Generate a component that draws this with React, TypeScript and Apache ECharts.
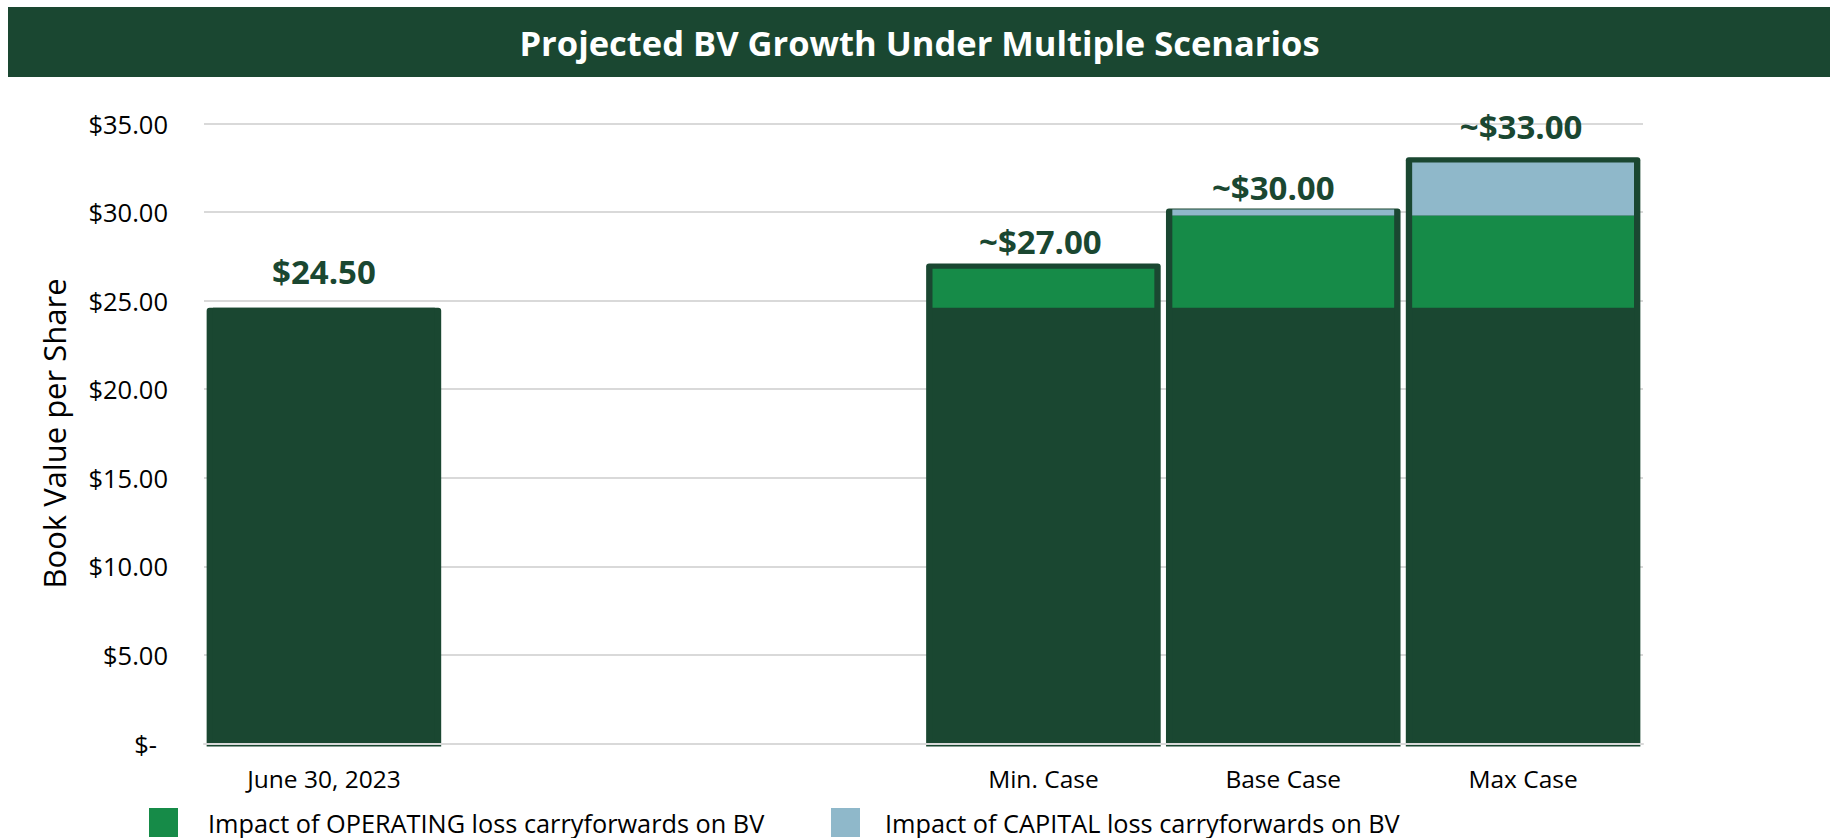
import React, { useEffect, useRef } from "react";
import * as echarts from "echarts";

// ---------- data ----------
const categories = ["June 30, 2023", "", "", "Min. Case", "Base Case", "Max Case"];
const baseValues = [24.6, null, null, 24.6, 24.6, 24.6];
const operatingValues = [null, null, null, 2.2, 5.2, 5.2];
const capitalValues = [null, null, null, null, 0.35, 3.0];
const totalValues = [24.6, null, null, 27.1, 30.2, 33.1];
const valueLabels = ["$24.50", "", "", "~$27.00", "~$30.00", "~$33.00"];
const seriesNames = [
  "Book Value",
  "Impact of OPERATING loss carryforwards on BV",
  "Impact of CAPITAL loss carryforwards on BV",
];
const titleText = "Projected BV Growth Under Multiple Scenarios";
const yAxisTitle = "Book Value per Share";
const yMin = 0;
const yMax = 35;
const yInterval = 5;

// ---------- style ----------
const DARK = "#1A4731";
const GREEN = "#168B48";
const BLUE = "#8FB8CA";
const GRID_GRAY = "#D9D9D9";
const FONT = '"Open Sans", "Noto Sans", sans-serif';
const OUTER_RATIO = 0.978;
const LABEL_GAP = [36, 0, 0, 22, 21, 31];
const LABEL_DX = [0, 0, 0, -3, -10, -2];

export default function App() {
  const ref = useRef<HTMLDivElement>(null);

  useEffect(() => {
    if (!ref.current) return;
    const chart = echarts.init(ref.current, undefined, { renderer: "svg" });

    const outlineData = totalValues
      .map((v, i) => (v == null ? null : [i, v]))
      .filter((d) => d !== null);

    const legendText = {
      fontSize: 25.3,
      lineHeight: 24,
      color: "#000",
      fontFamily: FONT,
    };

    const option: any = {
      animation: false,
      backgroundColor: "#ffffff",
      textStyle: { fontFamily: FONT },
      grid: {
        left: 204,
        right: 187,
        top: 123.5,
        bottom: 94.5,
        containLabel: false,
        outerBoundsMode: "none",
      },
      graphic: [
        {
          type: "rect",
          left: 8,
          top: 7,
          shape: { width: 1822, height: 70 },
          style: { fill: DARK },
          z: 10,
        },
        {
          type: "text",
          x: 919.5,
          y: 42.5,
          z: 11,
          style: {
            text: titleText,
            fill: "#ffffff",
            fontSize: 34.5,
            fontWeight: "bold",
            fontFamily: FONT,
            align: "center",
            verticalAlign: "middle",
            textAlign: "center",
            textVerticalAlign: "middle",
          },
        },
      ],
      legend: [
        {
          data: [seriesNames[1]],
          left: 149,
          top: 808,
          padding: 0,
          itemWidth: 29,
          itemHeight: 29,
          icon: "rect",
          selectedMode: false,
          textStyle: { ...legendText, padding: [0, 0, 0, 25] },
        },
        {
          data: [seriesNames[2]],
          left: 831,
          top: 808,
          padding: 0,
          itemWidth: 29,
          itemHeight: 29,
          icon: "rect",
          selectedMode: false,
          textStyle: { ...legendText, padding: [0, 0, 0, 20] },
        },
      ],
      xAxis: {
        type: "category",
        data: categories,
        z: 5,
        axisLine: { show: true, lineStyle: { color: GRID_GRAY, width: 2 } },
        axisTick: { show: false },
        axisLabel: {
          interval: 0,
          fontSize: 24.5,
          color: "#000",
          fontFamily: FONT,
          margin: 35,
          verticalAlign: "middle",
        },
      },
      yAxis: {
        type: "value",
        min: yMin,
        max: yMax,
        interval: yInterval,
        name: yAxisTitle,
        nameLocation: "middle",
        nameRotate: 90,
        nameGap: 150,
        nameTextStyle: {
          fontSize: 31,
          color: "#000",
          fontFamily: FONT,
          verticalAlign: "middle",
        },
        axisLine: { show: false },
        axisTick: { show: false },
        splitLine: { lineStyle: { color: GRID_GRAY, width: 2 } },
        axisLabel: {
          fontSize: 25.5,
          color: "#000",
          fontFamily: FONT,
          margin: 36,
          formatter: (v: number) => (v === 0 ? "{z|$-}" : "$" + v.toFixed(2)),
          rich: {
            z: {
              fontSize: 25.5,
              color: "#000",
              fontFamily: FONT,
              padding: [0, 11, 0, 0],
            },
          },
        },
      },
      series: [
        {
          type: "custom",
          name: "outline",
          z: 1,
          data: outlineData,
          encode: { x: 0, y: 1 },
          renderItem: (params: any, api: any) => {
            const i = api.value(0) as number;
            const v = api.value(1) as number;
            const top = api.coord([i, v]);
            const bottom = api.coord([i, 0]);
            const band = api.size([1, 0])[0];
            const w = band * OUTER_RATIO;
            const children: any[] = [
              {
                type: "rect",
                shape: {
                  x: top[0] - w / 2,
                  y: top[1],
                  width: w,
                  height: bottom[1] - top[1] + 3,
                  r: [3, 3, 0, 0],
                },
                style: { fill: DARK },
              },
            ];
            const label = valueLabels[i];
            if (label) {
              children.push({
                type: "text",
                x: top[0] + LABEL_DX[i],
                y: top[1] - LABEL_GAP[i],
                style: {
                  text: label,
                  fill: DARK,
                  fontSize: 33,
                  fontWeight: "bold",
                  fontFamily: FONT,
                  align: "center",
                  verticalAlign: "middle",
                },
              });
            }
            return { type: "group", children };
          },
        },
        {
          type: "bar",
          name: seriesNames[0],
          stack: "bv",
          barWidth: "92.5%",
          z: 2,
          itemStyle: { color: DARK },
          data: baseValues,
        },
        {
          type: "bar",
          name: seriesNames[1],
          stack: "bv",
          barWidth: "92.5%",
          z: 2,
          itemStyle: { color: GREEN },
          data: operatingValues,
        },
        {
          type: "bar",
          name: seriesNames[2],
          stack: "bv",
          barWidth: "92.5%",
          z: 2,
          itemStyle: { color: BLUE },
          data: capitalValues,
        },
      ],
    };

    chart.setOption(option);
    return () => chart.dispose();
  }, []);

  return (
    <div
      ref={ref}
      style={{ position: "fixed", left: 0, top: 0, width: 1830, height: 838, background: "#fff" }}
    />
  );
}
